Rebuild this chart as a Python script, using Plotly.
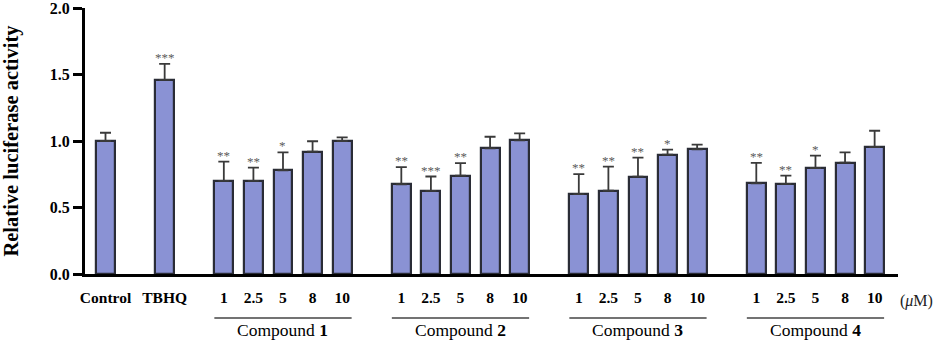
import plotly.graph_objects as go

# ---- data ----
control_label = ["Control", "TBHQ"]
control_values = [1.00, 1.46]
control_errors = [0.062, 0.12]
control_stars = ["", "***"]

concentrations = ["1", "2.5", "5", "8", "10"]
compound_names = ["1", "2", "3", "4"]
compound_values = [
    [0.70, 0.70, 0.78, 0.92, 1.00],
    [0.675, 0.625, 0.74, 0.945, 1.005],
    [0.60, 0.626, 0.732, 0.897, 0.937],
    [0.682, 0.677, 0.797, 0.837, 0.955],
]
compound_errors = [
    [0.145, 0.10, 0.135, 0.078, 0.028],
    [0.128, 0.108, 0.093, 0.087, 0.053],
    [0.151, 0.181, 0.143, 0.038, 0.035],
    [0.153, 0.062, 0.093, 0.078, 0.122],
]
compound_stars = [
    ["**", "**", "*", "", ""],
    ["**", "***", "**", "", ""],
    ["**", "**", "**", "*", ""],
    ["**", "**", "*", "", ""],
]

# ---- build positions (layout: one-slot gap between groups) ----
xs, ys, errs, stars, ticktext = [], [], [], [], []
for i, lab in enumerate(control_label):
    xs.append(2 * i)
    ys.append(control_values[i]); errs.append(control_errors[i])
    stars.append(control_stars[i]); ticktext.append(lab)
group_centers = []
for g in range(len(compound_names)):
    start = 4 + 6 * g
    for j, c in enumerate(concentrations):
        xs.append(start + j)
        ys.append(compound_values[g][j]); errs.append(compound_errors[g][j])
        stars.append(compound_stars[g][j]); ticktext.append(c)
    group_centers.append((start, start + len(concentrations) - 1))

FONT = "Liberation Serif"
bar_w = 0.64

fig = go.Figure()
fig.add_trace(go.Bar(
    x=xs, y=ys, width=bar_w,
    marker=dict(color="#8a92d4", line=dict(color="#2a2c36", width=2.2)),
    error_y=dict(type="data", array=errs, arrayminus=[0] * len(errs), symmetric=False,
                 color="#3a3a3a", thickness=1.8, width=5.5),
    hoverinfo="skip",
))

annotations = []
for x, y, e, s in zip(xs, ys, errs, stars):
    if s:
        annotations.append(dict(x=x, y=y + e, xref="x", yref="y", text=s, showarrow=False,
                                yanchor="bottom", yshift=-3,
                                font=dict(family=FONT, size=13, color="#5a5a5a")))

shapes = []
for g, (a, b) in enumerate(group_centers):
    shapes.append(dict(type="line", xref="x", yref="paper", x0=a - bar_w / 2, x1=b + bar_w / 2,
                       y0=-0.165, y1=-0.165, line=dict(color="#444444", width=1.5)))
    annotations.append(dict(x=(a + b) / 2, y=-0.212, xref="x", yref="paper",
                            text=f"Compound <b>{compound_names[g]}</b>", showarrow=False,
                            yanchor="middle", font=dict(family=FONT, size=17.5, color="#000")))
annotations.append(dict(x=1.023, y=-0.103, xref="paper", yref="paper", text="(<i>μ</i>M)",
                        showarrow=False, xanchor="center", yanchor="middle",
                        font=dict(family=FONT, size=16, color="#222")))

fig.update_layout(
    width=941, height=340,
    margin=dict(l=85, r=43, t=8, b=66, autoexpand=False),
    paper_bgcolor="white", plot_bgcolor="white",
    showlegend=False,
    bargap=0,
    font=dict(family=FONT, color="#000"),
    annotations=annotations, shapes=shapes,
    xaxis=dict(range=[-0.693, 26.79], tickmode="array", tickvals=xs, ticktext=[f"<b>{t}</b>" for t in ticktext],
               showline=True, linecolor="black", linewidth=3, ticks="", showgrid=False, zeroline=False,
               automargin=False, ticklabeloverflow="allow", ticklabelstandoff=7,
               tickfont=dict(family=FONT, size=15.5, color="#000")),
    yaxis=dict(range=[0, 2], tickmode="array", tickvals=[0, 0.5, 1.0, 1.5, 2.0],
               ticktext=["<b>0.0</b>", "<b>0.5</b>", "<b>1.0</b>", "<b>1.5</b>", "<b>2.0</b>"],
               showline=True, linecolor="black", linewidth=3, ticks="outside", ticklen=9,
               tickwidth=3, tickcolor="black", showgrid=False, zeroline=False,
               automargin=False, ticklabeloverflow="allow",
               tickfont=dict(family=FONT, size=16, color="#000"),
               title=dict(text="<b>Relative luciferase activity</b>", standoff=26,
                          font=dict(family=FONT, size=20.5, color="#000"))),
)

fig.write_html("out.html", config={"displayModeBar": False},
               post_script="document.body.style.margin='0';document.body.style.overflow='hidden';")
